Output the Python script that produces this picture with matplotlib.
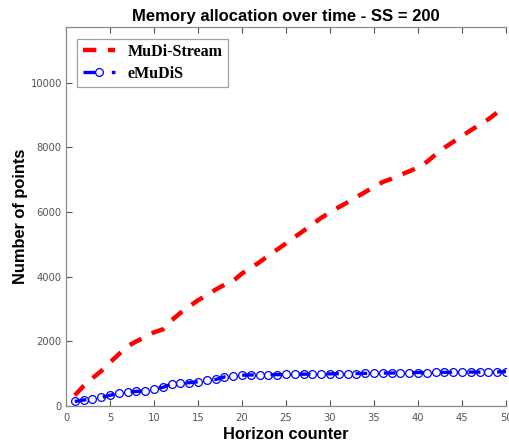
import numpy as np
import matplotlib
matplotlib.use("Agg")
import matplotlib.pyplot as plt

# === Data ===
horizon = np.arange(1, 51)

mudi_stream = [330, 620, 860, 1080, 1350, 1600, 1850, 2000, 2130, 2280,
               2370, 2650, 2880, 3080, 3270, 3430, 3600, 3750, 3870, 4100,
               4270, 4450, 4650, 4840, 5030, 5230, 5420, 5620, 5820, 5990,
               6150, 6300, 6460, 6620, 6780, 6930, 7030, 7150, 7260, 7380,
               7550, 7780, 7990, 8170, 8350, 8530, 8700, 8870, 9080, 9280]

emudis = [140, 185, 225, 265, 330, 400, 430, 450, 465, 535,
          575, 680, 700, 720, 750, 790, 820, 900, 925, 955,
          960, 965, 965, 970, 975, 980, 985, 985, 990, 995,
          1000, 1005, 1005, 1010, 1015, 1020, 1020, 1025, 1030, 1035,
          1035, 1040, 1040, 1045, 1045, 1050, 1050, 1055, 1055, 1060]

x_ticks = [0, 5, 10, 15, 20, 25, 30, 35, 40, 45, 50]
y_ticks = [0, 2000, 4000, 6000, 8000, 10000]

# === Figure ===
W, H = 509, 446
fig = plt.figure(figsize=(W / 100, H / 100), dpi=100)
ax = fig.add_axes([66 / W, 40 / H, 440 / W, 379.5 / H])

ax.plot(horizon, mudi_stream, color="red", linestyle=(0, (3.0, 2.6)),
        linewidth=3.2, label="MuDi-Stream")
ax.plot(horizon, emudis, color="blue", linestyle=(0, (3.5, 5.0)),
        linewidth=2.4, marker="o", markersize=5.6, markerfacecolor="none",
        markeredgecolor="blue", markeredgewidth=0.9, label="eMuDiS")

ax.set_xlim(0, 50)
ax.set_ylim(0, 11740)
ax.set_xticks(x_ticks)
ax.set_yticks(y_ticks)

ax.tick_params(direction="in", length=4, width=0.8, colors="#555555",
               labelsize=7.2, top=True, right=False)
ax.tick_params(axis="x", pad=5)
ax.tick_params(axis="y", pad=3)
for side in ["left", "bottom", "top"]:
    ax.spines[side].set_color("#8a8a8a")
    ax.spines[side].set_linewidth(0.9)
ax.spines["right"].set_visible(False)

ax.set_title("Memory allocation over time - SS = 200",
             fontsize=12, fontweight="bold", fontfamily="Liberation Sans", pad=4)
ax.set_xlabel("Horizon counter", fontsize=11.8, fontweight="bold",
              fontfamily="Liberation Sans", labelpad=3)
ax.set_ylabel("Number of points", fontsize=11.8, fontweight="bold",
              fontfamily="Liberation Sans", labelpad=2)

leg = ax.legend(loc="upper left", bbox_to_anchor=(77 / W, 1 - 38.5 / H),
                bbox_transform=fig.transFigure, fancybox=False,
                prop={"family": "Liberation Serif", "weight": "bold", "size": 11.5},
                handlelength=2.0, handletextpad=0.8, borderpad=0.35,
                labelspacing=0.35, borderaxespad=0)
leg.get_frame().set_edgecolor("#8a8a8a")
leg.get_frame().set_linewidth(0.9)

fig.savefig("out.png", dpi=100)
